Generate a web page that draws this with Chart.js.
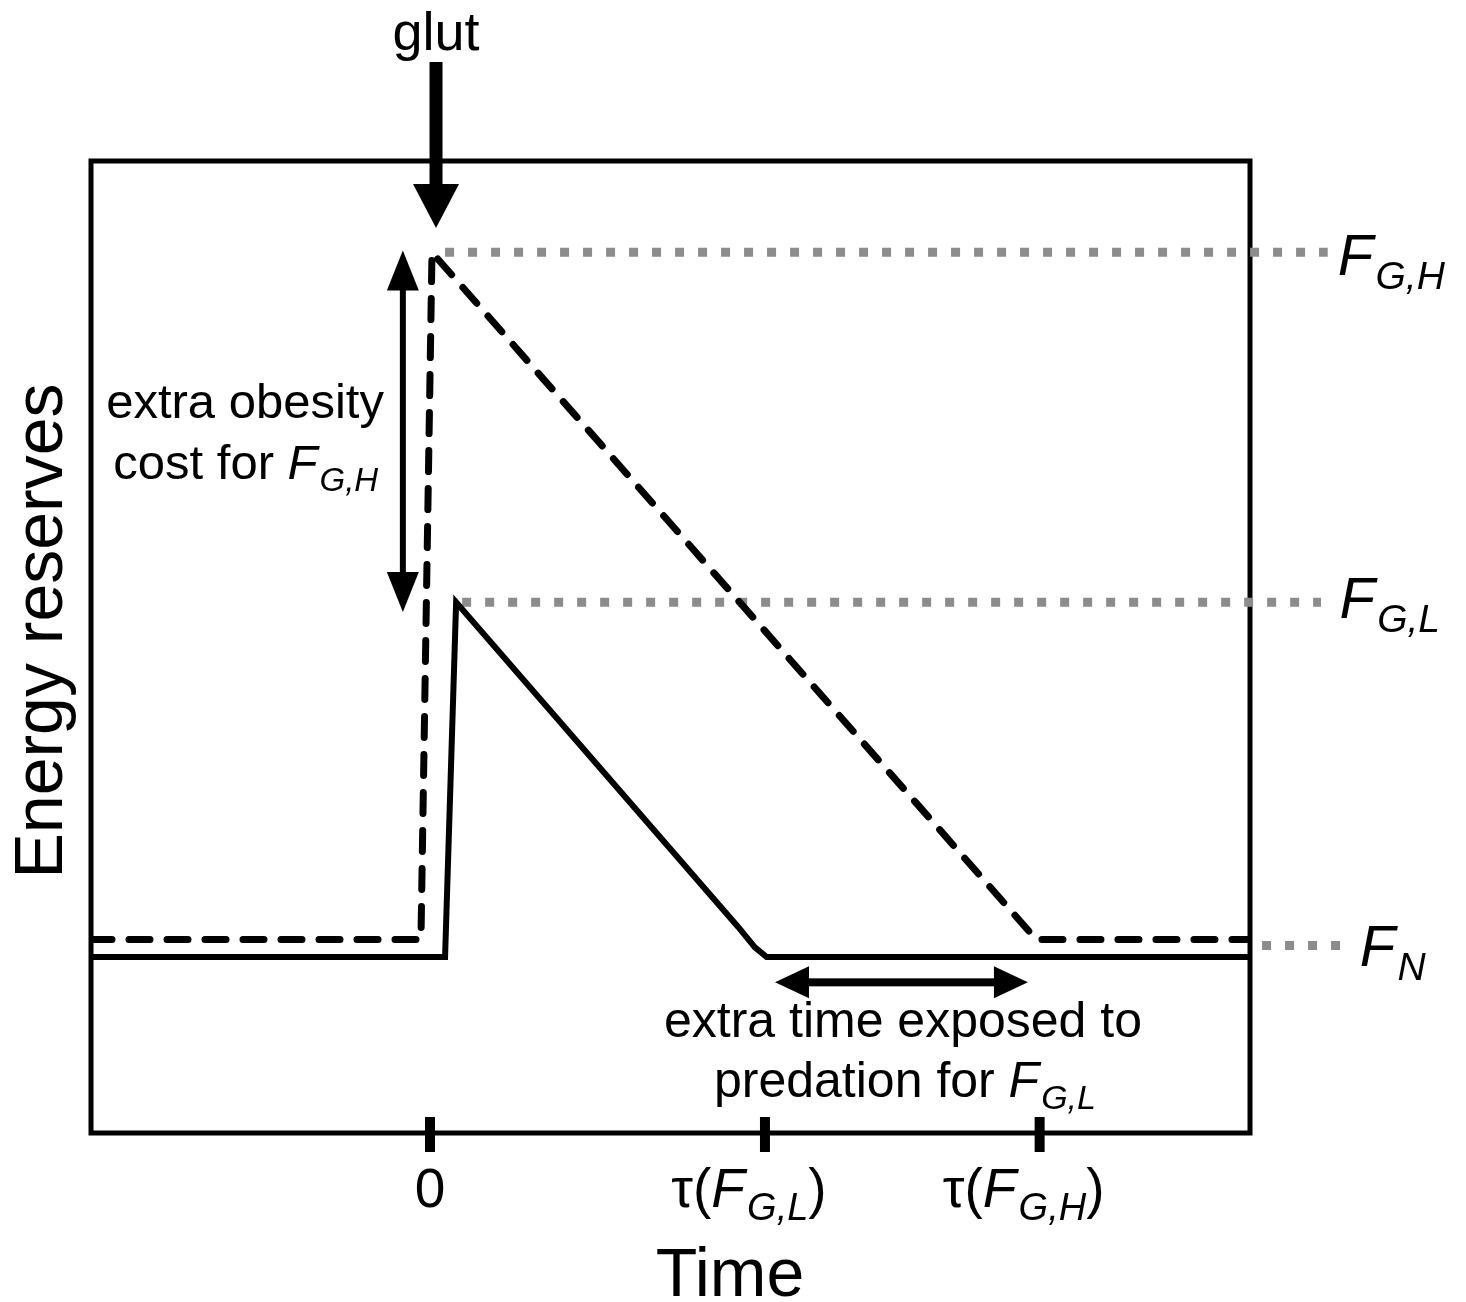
<!DOCTYPE html>
<html>
<head>
<meta charset="utf-8">
<script src="https://cdn.jsdelivr.net/npm/chart.js@4.4.1/dist/chart.umd.min.js"></script>
<style>
  html, body { margin: 0; padding: 0; background: #fff; }
  #wrap { width: 1466px; height: 1302px; }
</style>
</head>
<body>
<div id="wrap"><canvas id="glut-chart" width="1466" height="1302"></canvas></div>
<script>
// time axis (arbitrary units) and energy reserves axis (0-100)
const timeRange = [-10.12, 24.48];
const energyRange = [0, 100];
const timeTicks = [0, 10, 18.2];
const timeTickLabels = ['0', 'τ(F_{G,L})', 'τ(F_{G,H})'];

// high glut (dashed) and low glut (solid) trajectories
const highX = [-10.12, -0.27, 0.06, 18.1, 24.48];
const highY = [19.9, 19.9, 90.6, 19.9, 19.9];
const lowX = [-10.12, 0.45, 0.78, 9.2, 9.7, 10.05, 24.48];
const lowY = [18.1, 18.1, 54.6, 21.2, 19.1, 18.1, 18.1];

// reference levels (grey dotted)
const levelNames = ['F_{G,H}', 'F_{G,L}', 'F_{N}'];
const levelY = [90.6, 54.6, 19.3];
const levelFrom = [0.45, 0.96, 24.84];
const levelTo = [26.8, 26.6, 27.2];

const FONT = '"Liberation Sans", Arial, sans-serif';

function pts(xs, ys) {
    return xs.map((x, i) => ({ x: x, y: ys[i] }));
}

// split "τ(F_{G,L})" into plain / italic / subscript pieces
function parseRich(str) {
    const out = [];
    const re = /([A-Za-z])_\{([^}]*)\}/g;
    let last = 0, m;
    while ((m = re.exec(str)) !== null) {
        if (m.index > last) out.push({ t: str.slice(last, m.index), k: 'n' });
        out.push({ t: m[1], k: 'i' });
        out.push({ t: m[2], k: 's' });
        last = re.lastIndex;
    }
    if (last < str.length) out.push({ t: str.slice(last), k: 'n' });
    return out;
}

function drawRich(ctx, str, x, y, size, align, subSize) {
    const segs = parseRich(str);
    const ss = subSize || size * 0.64;
    const fontOf = k => k === 'n' ? size + 'px ' + FONT
        : k === 'i' ? 'italic ' + size + 'px ' + FONT
        : 'italic ' + ss + 'px ' + FONT;
    let total = 0;
    segs.forEach(s => { ctx.font = fontOf(s.k); s.w = ctx.measureText(s.t).width + (s.k === 'i' ? size * 0.04 : 0); total += s.w; });
    let cx = align === 'center' ? x - total / 2 : align === 'right' ? x - total : x;
    ctx.textAlign = 'left';
    ctx.textBaseline = 'alphabetic';
    segs.forEach(s => {
        ctx.font = fontOf(s.k);
        ctx.fillText(s.t, cx, s.k === 's' ? y + size * 0.24 : y);
        cx += s.w;
    });
}

function arrowHead(ctx, tx, ty, dx, dy, len, half) {
    // tip at (tx,ty), pointing along (dx,dy)
    ctx.beginPath();
    ctx.moveTo(tx, ty);
    ctx.lineTo(tx - dx * len - dy * half, ty - dy * len + dx * half);
    ctx.lineTo(tx - dx * len + dy * half, ty - dy * len - dx * half);
    ctx.closePath();
    ctx.fill();
}

const annotate = {
    id: 'annotate',
    beforeDatasetsDraw(chart) {
        const ctx = chart.ctx, a = chart.chartArea;
        ctx.save();
        ctx.strokeStyle = '#000';
        ctx.lineWidth = 5;
        ctx.strokeRect(a.left, a.top, a.right - a.left, a.bottom - a.top);
        ctx.restore();
    },
    afterDraw(chart) {
        const ctx = chart.ctx, a = chart.chartArea;
        const xs = chart.scales.x, ys = chart.scales.y;
        const X = v => xs.getPixelForValue(v), Y = v => ys.getPixelForValue(v);
        ctx.save();
        ctx.fillStyle = '#000';
        ctx.strokeStyle = '#000';

        // time ticks and labels
        timeTicks.forEach((t, i) => {
            ctx.lineWidth = 10;
            ctx.beginPath();
            ctx.moveTo(X(t), a.bottom - 16);
            ctx.lineTo(X(t), a.bottom + 19);
            ctx.stroke();
            drawRich(ctx, timeTickLabels[i], X(t) - (i ? 16 : 0), a.bottom + 74, 55, 'center', 38);
        });

        // axis titles
        ctx.font = '68px ' + FONT;
        ctx.textAlign = 'center';
        ctx.fillText('Time', 730, 1296);
        ctx.save();
        ctx.translate(62, (a.top + a.bottom) / 2 - 16);
        ctx.rotate(-Math.PI / 2);
        ctx.fillText('Energy reserves', 0, 0);
        ctx.restore();

        // glut arrow
        ctx.font = '54px ' + FONT;
        ctx.fillText('glut', X(0.18), 50);
        ctx.fillRect(X(0.18) - 6.5, 62, 13, 126);
        arrowHead(ctx, X(0.18), Y(93.1), 0, 1, 44, 23);

        // obesity cost double arrow
        const ax = X(-0.81);
        ctx.fillRect(ax - 3, Y(87), 6, Y(57) - Y(87));
        arrowHead(ctx, ax, Y(90.8), 0, -1, 40, 16);
        arrowHead(ctx, ax, Y(53.6), 0, 1, 40, 16);

        // extra time double arrow
        const ay = Y(15.5);
        ctx.fillRect(X(10.9), ay - 4, X(17.3) - X(10.9), 8);
        arrowHead(ctx, X(10.3), ay, -1, 0, 34, 16);
        arrowHead(ctx, X(17.85), ay, 1, 0, 34, 16);

        // text annotations
        drawRich(ctx, 'extra obesity', X(-5.52), Y(73.6), 49, 'center');
        drawRich(ctx, 'cost for F_{G,H}', X(-5.5), Y(67.3), 49, 'center', 33);
        drawRich(ctx, 'extra time exposed to', X(14.12), Y(9.9), 50, 'center');
        drawRich(ctx, 'predation for F_{G,L}', X(14.18), Y(3.7), 50, 'center', 34);

        // level labels on the right
        const labelX = [27.1, 27.15, 27.76];
        const labelY = [88.3, 53.0, 17.2];
        levelNames.forEach((n, i) => {
            drawRich(ctx, n, X(labelX[i]), Y(labelY[i]), 58, 'left', 39);
        });
        ctx.restore();
    }
};

const levelSets = levelNames.map((n, i) => ({
    label: n,
    data: [{ x: levelFrom[i], y: levelY[i] }, { x: levelTo[i], y: levelY[i] }],
    borderColor: '#8c8c8c',
    borderWidth: 9,
    borderDash: [9, 14],
    borderCapStyle: 'butt',
    pointRadius: 0,
    clip: false,
    order: 3
}));

new Chart(document.getElementById('glut-chart'), {
    type: 'line',
    data: {
        datasets: [
            {
                label: 'high glut',
                data: pts(highX, highY),
                borderColor: '#000',
                borderWidth: 7,
                borderDash: [21, 17],
                borderCapStyle: 'round',
                borderJoinStyle: 'round',
                pointRadius: 0,
                tension: 0,
                order: 1
            },
            {
                label: 'low glut',
                data: pts(lowX, lowY),
                borderColor: '#000',
                borderWidth: 6,
                borderJoinStyle: 'miter',
                pointRadius: 0,
                tension: 0,
                order: 2
            }
        ].concat(levelSets)
    },
    options: {
        responsive: false,
        animation: false,
        layout: { padding: { left: 91, right: 216, top: 161, bottom: 169 } },
        plugins: { legend: { display: false }, tooltip: { enabled: false } },
        scales: {
            x: { type: 'linear', min: timeRange[0], max: timeRange[1], display: false },
            y: { type: 'linear', min: energyRange[0], max: energyRange[1], display: false }
        }
    },
    plugins: [annotate]
});
</script>
</body>
</html>
